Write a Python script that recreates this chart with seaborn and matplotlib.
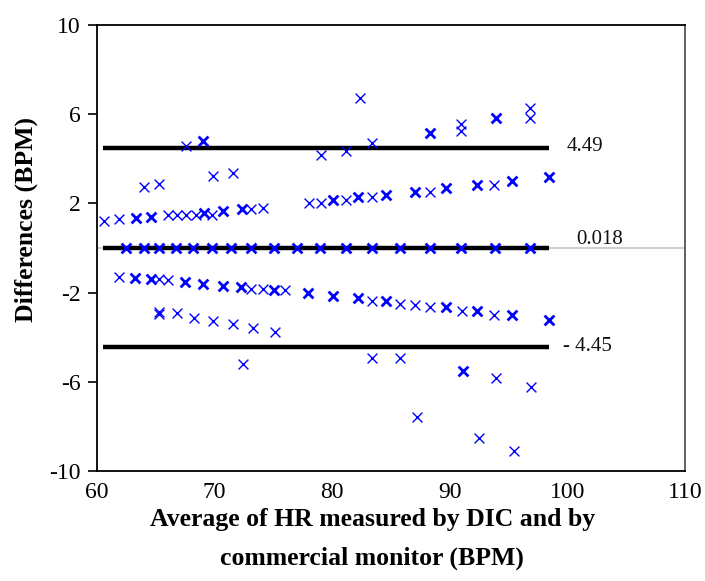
import numpy as np
import pandas as pd
import matplotlib
matplotlib.use('Agg')
import matplotlib.pyplot as plt
import seaborn as sns

# Bland-Altman data
# points that sit on the mean line (all drawn heavy = overlapping pairs)
zero_x = [62.5, 64.0, 65.25, 66.7, 68.2, 69.8, 71.4, 73.1, 75.05, 77.0, 79.0,
          81.15, 83.35, 85.8, 88.3, 90.95, 93.85, 96.8]
zero_y = [0.0] * len(zero_x)
zero_n = [2] * len(zero_x)

# upper band of points
upper_x = [60.6, 61.9, 63.3, 64.6, 66.0, 66.8, 67.6, 68.4, 69.1, 69.8, 70.7, 72.3,
           73.1, 74.1, 78.0, 79.05, 80.05, 81.15, 82.2, 83.4, 84.55, 87.0, 88.3,
           89.65, 92.35, 93.8, 95.25, 98.45]
upper_y = [1.22, 1.29, 1.33, 1.39, 1.47, 1.47, 1.47, 1.47, 1.56, 1.49, 1.66, 1.75,
           1.75, 1.78, 2.03, 2.03, 2.15, 2.15, 2.27, 2.27, 2.38, 2.5, 2.5,
           2.68, 2.83, 2.83, 3.02, 3.2]
upper_n = [1, 1, 2, 2, 1, 1, 1, 1, 2, 1, 2, 2, 1, 1, 1, 1, 2, 1, 2, 1, 2, 2, 1,
           2, 2, 1, 2, 2]

# lower band of points
lower_x = [61.9, 63.25, 64.55, 65.25, 66.0, 67.45, 69.0, 70.7, 72.25, 73.1, 74.1,
           75.05, 75.95, 77.9, 80.05, 82.2, 83.35, 84.55, 85.8, 87.0, 88.3, 89.65,
           91.0, 92.35, 93.8, 95.25, 98.45]
lower_y = [-1.29, -1.33, -1.39, -1.40, -1.43, -1.54, -1.63, -1.69, -1.74, -1.84,
           -1.84, -1.88, -1.88, -2.03, -2.14, -2.23, -2.38, -2.38, -2.52, -2.56,
           -2.66, -2.66, -2.83, -2.83, -3.0, -3.0, -3.24]
lower_n = [1, 2, 2, 1, 1, 2, 2, 2, 2, 1, 1, 2, 1, 2, 2, 2, 1, 2, 1, 1, 1, 2,
           1, 2, 1, 2, 2]

# scattered points
other_x = [64.0, 65.25, 69.85, 71.55, 67.6, 69.05, 79.05, 81.15, 82.35, 83.4,
           88.3, 90.95, 90.95, 93.9, 96.85, 96.85,
           65.25, 65.3, 66.8, 68.25, 69.9, 71.55, 73.3, 75.15, 72.4, 83.35,
           85.8, 91.1, 93.95, 96.9, 87.2, 92.5, 95.45]
other_y = [2.72, 2.86, 3.24, 3.38, 4.57, 4.77, 4.17, 4.35, 6.71, 4.69,
           5.17, 5.55, 5.25, 5.84, 6.27, 5.84,
           -2.86, -2.96, -2.93, -3.15, -3.26, -3.41, -3.60, -3.75, -5.20, -4.92,
           -4.92, -5.50, -5.84, -6.25, -7.56, -8.51, -9.09]
other_n = [1, 1, 1, 1, 1, 2, 1, 1, 1, 1,
           2, 1, 1, 2, 1, 1,
           1, 1, 1, 1, 1, 1, 1, 1, 1, 1,
           1, 2, 1, 1, 1, 1, 1]

# mean and limits of agreement
stat_values = [4.49, 0.018, -4.45]
stat_labels = ['4.49', '0.018', '- 4.45']
line_x = [60.5, 98.4]

df = pd.DataFrame({
    'avg': zero_x + upper_x + lower_x + other_x,
    'diff': zero_y + upper_y + lower_y + other_y,
    'n': zero_n + upper_n + lower_n + other_n,
})

sns.set_style('white')
plt.rcParams['font.family'] = ['Liberation Serif', 'DejaVu Serif']
plt.rcParams['axes.unicode_minus'] = False
plt.rcParams['text.color'] = 'black'
plt.rcParams['axes.labelcolor'] = 'black'
plt.rcParams['xtick.color'] = 'black'
plt.rcParams['ytick.color'] = 'black'

fig = plt.figure(figsize=(7.05, 5.81), dpi=100)
ax = fig.add_axes([0.1376, 0.1893, 0.834, 0.768])

# thin grey zero line across the plot
ax.axhline(stat_values[1], color='#cfcfcf', lw=1.5, zorder=1)

for v in stat_values:
    ax.plot(line_x, [v, v], color='black', lw=3.2, zorder=2, solid_capstyle='butt')

single = df[df['n'] == 1]
double = df[df['n'] == 2]
sns.scatterplot(data=single, x='avg', y='diff', marker='x', color='#0000ff',
                s=50, linewidth=1.0, ax=ax, zorder=3)
sns.scatterplot(data=double, x='avg', y='diff', marker='x', color='#0000ff',
                s=50, linewidth=2.0, ax=ax, zorder=3)

# labels of the lines
label_x = [101.5, 102.7, 101.7]
label_y = [4.53, 0.36, -4.44]
for lx, ly, t in zip(label_x, label_y, stat_labels):
    ax.text(lx, ly, t, fontsize=15, ha='center', va='center', color='#111111')

ax.set_xlim(60, 110)
ax.set_ylim(-10, 10)
ax.set_xticks([60, 70, 80, 90, 100, 110])
ax.set_yticks([-10, -6, -2, 2, 6, 10])
ax.tick_params(axis='y', length=6.5, width=1.2, direction='out', pad=5,
               labelsize=17, left=True, color='black')
ax.tick_params(axis='x', length=0, pad=8, labelsize=17)

for side in ['left', 'bottom', 'top']:
    ax.spines[side].set_color('black')
    ax.spines[side].set_linewidth(1.3)
ax.spines['right'].set_color('#555555')
ax.spines['right'].set_linewidth(1.3)

ax.set_xlabel('Average of HR measured by DIC and by\ncommercial monitor (BPM)',
              fontsize=18.5, fontweight='bold', linespacing=1.85)
ax.set_ylabel('Differences (BPM)', fontsize=18.5, fontweight='bold')
ax.xaxis.set_label_coords(0.468, -0.084, transform=ax.transAxes)
ax.xaxis.label.set_va('top')
ax.yaxis.set_label_coords(-0.10, 0.563)

fig.savefig('out.png', dpi=100)
